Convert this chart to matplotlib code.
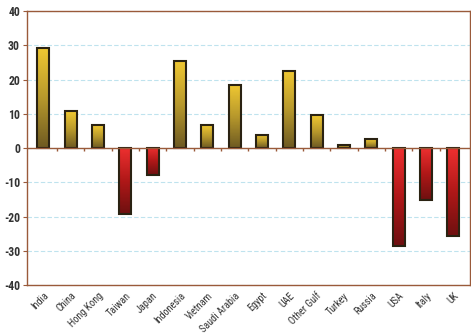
import numpy as np
import matplotlib
matplotlib.use("Agg")
import matplotlib.pyplot as plt
from matplotlib.colors import LinearSegmentedColormap
from matplotlib import font_manager

# data
countries = ["India", "China", "Hong Kong", "Taiwan", "Japan", "Indonesia",
             "Vietnam", "Saudi Arabia", "Egypt", "UAE", "Other Gulf",
             "Turkey", "Russia", "USA", "Italy", "UK"]
values = [29.2, 10.8, 6.7, -19.3, -7.9, 25.4, 6.7, 18.4, 3.8, 22.5, 9.6,
          0.9, 2.6, -28.7, -15.2, -25.7]
yticks = [40, 30, 20, 10, 0, -10, -20, -30, -40]

names = set(f.name for f in font_manager.fontManager.ttflist)
label_font = "DejaVu Sans"
for cand in ["Liberation Sans Narrow", "DejaVu Sans Condensed", "Roboto Condensed",
             "Open Sans Condensed", "Noto Sans Condensed"]:
    if cand in names:
        label_font = cand
        break

brown = "#9a5a3a"
gold = LinearSegmentedColormap.from_list("gold", ["#6e5a22", "#b8992c", "#f0c832"])
red = LinearSegmentedColormap.from_list("red", ["#6e1010", "#b01818", "#ee3030"])

fig = plt.figure(figsize=(4.71, 3.33), dpi=100)
ax = fig.add_axes([0.057, 0.144, 0.94, 0.823])

x = np.arange(len(countries))
bars = ax.bar(x, values, width=0.44, facecolor="none", edgecolor="#2a2212",
              linewidth=1.5, zorder=3)

# gradient fill inside each bar
grad = np.linspace(0, 1, 100).reshape(-1, 1)
for b, v in zip(bars, values):
    x0 = b.get_x()
    w = b.get_width()
    lo, hi = min(0, v), max(0, v)
    cmap = gold if v > 0 else red
    im = ax.imshow(grad, extent=[x0, x0 + w, lo, hi], origin="lower",
                   cmap=cmap, aspect="auto", zorder=2)
    im.set_clip_path(b)

ax.set_xlim(-0.6, len(countries) - 0.4)
ax.set_ylim(-40, 40)
ax.set_yticks(yticks)
ax.set_yticklabels([str(t) for t in yticks], fontsize=8.5, fontweight="bold",
                   color="#333333", family=label_font)
ax.yaxis.grid(True, linestyle=(0, (4, 2)), color="#bfe3ee", linewidth=0.8)
ax.set_axisbelow(True)

ax.axhline(0, color=brown, linewidth=1.0, zorder=4)
ax.vlines(x[:-1] + 0.5, -0.9, 0, color=brown, linewidth=1.0, zorder=4)

ax.set_xticks(x)
ax.set_xticklabels(countries, rotation=45, ha="right", rotation_mode="anchor",
                   fontsize=7.3, family=label_font, color="#333333")
ax.tick_params(axis="x", length=0, pad=4)
ax.tick_params(axis="y", length=3, color=brown, pad=2)

for s in ax.spines.values():
    s.set_color(brown)
    s.set_linewidth(1.0)

fig.savefig("out.png", dpi=100)
